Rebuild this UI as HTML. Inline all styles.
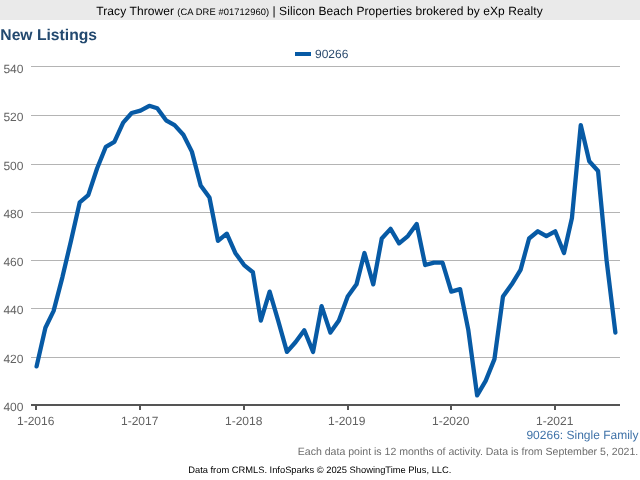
<!DOCTYPE html>
<html><head><meta charset="utf-8"><title>New Listings</title>
<style>
html,body{margin:0;padding:0;background:#fff;}
body{width:640px;height:480px;overflow:hidden;font-family:"Liberation Sans",sans-serif;}
svg{display:block;will-change:transform;}
text{font-family:"Liberation Sans",sans-serif;text-rendering:geometricPrecision;}
.ax{font-size:12px;fill:#626262;}
</style></head><body>
<svg width="640" height="480" viewBox="0 0 640 480">
<rect x="0" y="0" width="640" height="480" fill="#fff"/>
<rect x="0" y="0" width="640" height="20" fill="#eaeaea"/>
<text x="96.3" y="15" font-size="12" fill="#000" textLength="77.7" lengthAdjust="spacing">Tracy Thrower</text>
<text x="177.3" y="15" font-size="9.33" fill="#000" textLength="91.8" lengthAdjust="spacing">(CA DRE #01712960)</text>
<text x="272.6" y="15" font-size="12" fill="#000">|</text>
<text x="279.1" y="15" font-size="12" fill="#000" textLength="263.6" lengthAdjust="spacing">Silicon Beach Properties brokered by eXp Realty</text>
<text x="0.3" y="39.6" font-size="15.7" font-weight="bold" fill="#23496f">New Listings</text>
<rect x="295" y="52" width="16" height="4" fill="#075aa5"/>
<text x="315" y="57.8" font-size="12" fill="#2a4a6e">90266</text>
<rect x="31" y="66" width="589" height="1" fill="#b4b4b4"/>
<text x="3.4" y="73.1" class="ax">540</text>
<rect x="31" y="115" width="589" height="1" fill="#b4b4b4"/>
<text x="3.4" y="121.1" class="ax">520</text>
<rect x="31" y="164" width="589" height="1" fill="#b4b4b4"/>
<text x="3.4" y="170.1" class="ax">500</text>
<rect x="31" y="212" width="589" height="1" fill="#b4b4b4"/>
<text x="3.4" y="218.1" class="ax">480</text>
<rect x="31" y="260" width="589" height="1" fill="#b4b4b4"/>
<text x="3.4" y="266.1" class="ax">460</text>
<rect x="31" y="308" width="589" height="1" fill="#b4b4b4"/>
<text x="3.4" y="314.1" class="ax">440</text>
<rect x="31" y="357" width="589" height="1" fill="#b4b4b4"/>
<text x="3.4" y="363.1" class="ax">420</text>
<text x="3.4" y="411" class="ax">400</text>

<rect x="31" y="404" width="589" height="2" fill="#555"/>
<rect x="35" y="405" width="2" height="5" fill="#555"/>
<text x="17" y="425" class="ax">1-2016</text>
<rect x="139" y="405" width="2" height="5" fill="#555"/>
<text x="121" y="425" class="ax">1-2017</text>
<rect x="243" y="405" width="2" height="5" fill="#555"/>
<text x="225" y="425" class="ax">1-2018</text>
<rect x="347" y="405" width="2" height="5" fill="#555"/>
<text x="328" y="425" class="ax">1-2019</text>
<rect x="450" y="405" width="2" height="5" fill="#555"/>
<text x="432" y="425" class="ax">1-2020</text>
<rect x="554" y="405" width="2" height="5" fill="#555"/>
<text x="536" y="425" class="ax">1-2021</text>

<path d="M36.60,366.39 L45.40,327.78 L53.63,310.89 L62.43,277.11 L70.95,240.92 L79.75,202.31 L88.26,195.07 L97.06,168.53 L105.86,146.81 L114.37,141.98 L123.17,122.68 L131.69,113.03 L140.49,110.61 L149.29,105.79 L157.24,108.20 L166.04,120.27 L174.55,125.09 L183.35,134.74 L191.87,151.64 L200.67,185.42 L209.46,197.48 L217.98,240.92 L226.78,233.68 L235.29,252.98 L244.09,265.05 L252.89,272.28 L260.84,320.55 L269.64,291.59 L278.16,320.55 L286.96,351.91 L295.47,342.26 L304.27,330.20 L313.07,351.91 L321.59,306.07 L330.38,332.61 L338.90,320.55 L347.70,296.42 L356.50,284.35 L364.45,252.98 L373.25,284.35 L381.76,238.50 L390.56,228.85 L399.08,243.33 L407.88,236.09 L416.68,224.03 L425.19,265.05 L433.99,262.63 L442.51,262.63 L451.30,291.59 L460.10,289.18 L468.34,330.20 L477.14,395.35 L485.65,380.87 L494.45,359.15 L502.97,296.42 L511.76,284.35 L520.56,269.87 L529.08,238.50 L537.88,231.26 L546.39,236.09 L555.19,231.26 L563.99,252.98 L571.94,217.99 L580.74,125.09 L589.26,161.29 L598.06,170.94 L606.57,260.22 L615.37,332.61" fill="none" stroke="#075aa5" stroke-width="4.3" stroke-linejoin="round" stroke-linecap="round"/>
<text x="638.5" y="439" text-anchor="end" font-size="12" fill="#3f72a8">90266: Single Family</text>
<text x="638.2" y="454.5" text-anchor="end" font-size="10.55" fill="#6c6c6c">Each data point is 12 months of activity. Data is from September 5, 2021.</text>
<text x="319.8" y="473.2" text-anchor="middle" font-size="9.33" fill="#000">Data from CRMLS. InfoSparks © 2025 ShowingTime Plus, LLC.</text>
</svg>
</body></html>
